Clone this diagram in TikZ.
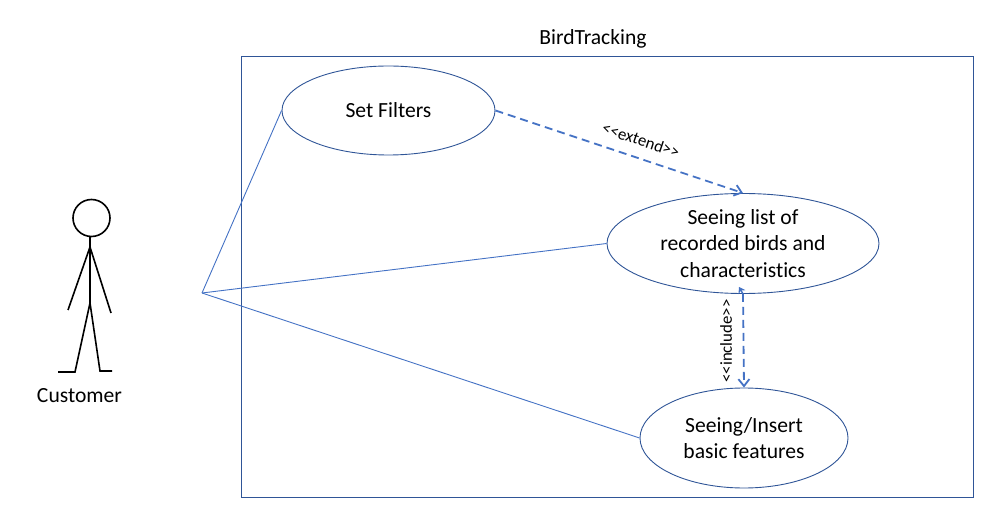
\documentclass[tikz,border=0pt]{standalone}
\usepackage{fontspec}
\setmainfont[Ligatures=NoCommon]{Carlito}
\usetikzlibrary{arrows.meta,shapes.geometric}
\definecolor{frameblue}{HTML}{2F5597}
\definecolor{lineblue}{HTML}{4472C4}
\newcommand{\ltlt}{<\kern0pt<}
\newcommand{\gtgt}{>\kern0pt>}
\tikzset{
  usecase/.style={draw=frameblue,line width=0.9pt,ellipse,inner sep=0pt,align=center,font=\fontsize{21.6}{26.8}\selectfont,text=black},
  assoc/.style={draw=lineblue,line width=0.9pt},
  relation/.style={draw=lineblue,line width=1.8pt,dash pattern=on 8pt off 5pt,-{Straight Barb[length=7pt,width=11pt]}},
  stereo/.style={font=\fontsize{16.8}{18}\selectfont,text=black,inner sep=0pt},
  figline/.style={draw=black,line width=1.6pt},
  plainlabel/.style={font=\fontsize{21.6}{26}\selectfont,text=black,inner sep=0pt}
}
\begin{document}
\begin{tikzpicture}[x=1pt,y=-1pt]
\useasboundingbox (0,0) rectangle (993,521);
\node[draw=frameblue,line width=0.9pt,minimum width=732pt,minimum height=441pt,inner sep=0pt] (sys) at (607.5,276.5) {};
\node[plainlabel] (title) at (593,38.5) {BirdTracking};
\node[usecase,minimum width=213pt,minimum height=89pt] (filters) at (388.5,110.5) {Set Filters};
\node[usecase,minimum width=272pt,minimum height=100pt] (list) at (743,243.5) {Seeing list of\\recorded birds and\\characteristics};
\node[usecase,minimum width=208pt,minimum height=100pt] (basic) at (744,438) {Seeing/Insert\\basic features};
\coordinate (hub) at (202,293);
\draw[assoc] (hub) -- (filters.west);
\draw[assoc] (hub) -- (list.west);
\draw[assoc] (hub) -- (basic.west);
\draw[relation] (filters.east) -- (list.north);
\draw[relation] (list.south) -- (basic.north);
\draw[draw=lineblue,line width=1.4pt,-{Stealth[length=6pt,width=8pt]}] (list.south) -- ++(-4,-7);
\node[stereo,rotate=-18.5] (ext) at (641,140) {\ltlt extend\gtgt};
\node[stereo,rotate=90] (inc) at (726,341) {\ltlt include\gtgt};
% stick figure
\node[draw=black,line width=1.6pt,circle,minimum size=37pt,inner sep=0pt] (head) at (91.5,218) {};
\coordinate (shoulder) at (90,247);
\coordinate (hip) at (90,303);
\coordinate (handl) at (68,310);
\coordinate (handr) at (111,313);
\coordinate (kneel) at (75,372);
\coordinate (kneer) at (100,371);
\coordinate (footl) at (58,372);
\coordinate (footr) at (112,371);
\draw[figline] (head.south -| hip) -- (hip);
\draw[figline] (handl) -- (shoulder) -- (handr);
\draw[figline] (footl) -- (kneel) -- (hip) -- (kneer) -- (footr);
\node[plainlabel] (cust) at (79.5,395.5) {Customer};
\end{tikzpicture}
\end{document}
